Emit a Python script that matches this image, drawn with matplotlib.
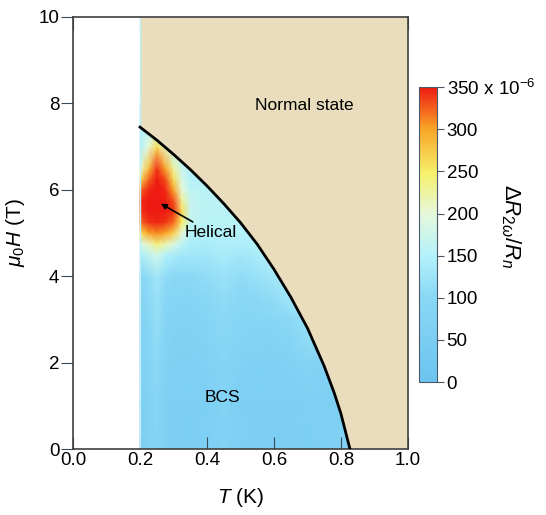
import numpy as np
import matplotlib
matplotlib.use("Agg")
import matplotlib.pyplot as plt
from matplotlib.colors import LinearSegmentedColormap

plt.rcParams["font.family"] = ["Liberation Sans", "DejaVu Sans"]
plt.rcParams["mathtext.fontset"] = "custom"
plt.rcParams["mathtext.rm"] = "Liberation Sans"
plt.rcParams["mathtext.it"] = "Liberation Sans:italic"

# measurement grid: temperature (K) and field (T)
temps = [0.20, 0.225, 0.25, 0.275, 0.30, 0.325, 0.35, 0.40, 0.45, 0.50,
         0.55, 0.60, 0.65, 0.70, 0.75, 0.80, 0.85]
fields = [0.0, 1.0, 2.0, 3.0, 3.5, 4.0, 4.5, 4.75, 5.0, 5.25, 5.5, 5.75,
          6.0, 6.25, 6.5, 7.0, 7.5, 8.0]

# dR_2w / R_n in units of 1e-6, one row per field value
signal = [
    [60, 70, 85, 65, 55, 55, 55, 60, 75, 60, 55, 55, 55, 55, 60, 70, 100],
    [60, 70, 90, 65, 55, 55, 55, 60, 75, 60, 55, 55, 55, 60, 65, 60, 100],
    [65, 80, 105, 75, 65, 65, 65, 70, 85, 70, 65, 65, 70, 80, 70, 70, 120],
    [70, 90, 115, 85, 75, 75, 75, 85, 100, 85, 85, 90, 100, 120, 140, 140, 140],
    [80, 100, 120, 95, 85, 85, 85, 95, 110, 95, 100, 110, 130, 140, 140, 140, 140],
    [90, 110, 130, 110, 100, 100, 100, 110, 120, 110, 120, 130, 140, 140, 140, 140, 140],
    [140, 160, 180, 150, 140, 130, 130, 130, 140, 130, 140, 150, 150, 150, 150, 150, 150],
    [180, 210, 240, 220, 190, 160, 140, 140, 145, 145, 150, 150, 150, 150, 150, 150, 150],
    [260, 300, 310, 300, 270, 200, 150, 150, 150, 150, 150, 150, 150, 150, 150, 150, 150],
    [320, 340, 345, 340, 320, 250, 165, 155, 155, 155, 155, 155, 155, 155, 155, 155, 155],
    [340, 350, 350, 350, 340, 260, 170, 155, 155, 155, 155, 155, 155, 155, 155, 155, 155],
    [345, 350, 350, 350, 330, 230, 170, 155, 155, 155, 155, 155, 155, 155, 155, 155, 155],
    [320, 345, 350, 345, 300, 200, 160, 155, 155, 155, 155, 155, 155, 155, 155, 155, 155],
    [260, 320, 350, 330, 260, 185, 150, 150, 150, 150, 150, 150, 150, 150, 150, 150, 150],
    [200, 280, 340, 300, 225, 170, 150, 150, 150, 150, 150, 150, 150, 150, 150, 150, 150],
    [150, 200, 260, 210, 155, 150, 150, 150, 150, 150, 150, 150, 150, 150, 150, 150, 150],
    [150, 150, 170, 150, 150, 150, 150, 150, 150, 150, 150, 150, 150, 150, 150, 150, 150],
    [150, 150, 150, 150, 150, 150, 150, 150, 150, 150, 150, 150, 150, 150, 150, 150, 150],
]

# upper critical field boundary
hc_temps = [0.20, 0.25, 0.30, 0.35, 0.40, 0.45, 0.50, 0.55, 0.60, 0.65,
            0.70, 0.75, 0.78, 0.80, 0.827]
hc_fields = [7.45, 7.15, 6.82, 6.47, 6.09, 5.68, 5.24, 4.74, 4.16, 3.52,
             2.80, 1.92, 1.30, 0.82, 0.0]

cbar_ticks = [0, 50, 100, 150, 200, 250, 300, 350]

tan = "#e9ddbd"
cmap = LinearSegmentedColormap.from_list(
    "helical",
    [(0.0, "#6cc4ef"), (0.29, "#8ad8f6"), (0.43, "#b4f2fa"),
     (0.57, "#e6f8dc"), (0.71, "#f6f06a"), (0.86, "#f8a426"),
     (1.0, "#ee1a12")],
)

fig = plt.figure(figsize=(5.46, 5.15), dpi=100)
ax = fig.add_axes([0.134, 0.128, 0.613, 0.839])

ax.axvspan(0.2, 1.0, color=tan, lw=0, zorder=0)
mesh = ax.pcolormesh(temps, fields, np.array(signal, dtype=float),
                     shading="gouraud", cmap=cmap, vmin=0, vmax=350, zorder=1)

# normal state covers everything outside the Hc2 line
poly_x = list(hc_temps) + [1.0, 1.0, 0.2]
poly_y = list(hc_fields) + [0.0, 10.0, 10.0]
ax.fill(poly_x, poly_y, color=tan, lw=0, zorder=2)
ax.axvline(0.2, color="#bfeef8", lw=1, zorder=2)
ax.plot(hc_temps, hc_fields, color="black", lw=2, zorder=3,
        solid_joinstyle="round")

ax.text(0.69, 7.95, "Normal state", ha="center", va="center", fontsize=12.5)
ax.text(0.445, 1.2, "BCS", ha="center", va="center", fontsize=12.5)
ax.annotate("Helical", xy=(0.262, 5.68), xytext=(0.333, 5.02),
            ha="left", va="center", fontsize=12.5, zorder=4,
            arrowprops=dict(arrowstyle="-|>", color="black", lw=1.2,
                            mutation_scale=8, shrinkA=0, shrinkB=0))

ax.set_xlim(0, 1.0)
ax.set_ylim(0, 10)
ax.set_xticks(np.arange(0, 1.01, 0.2))
ax.set_xticklabels([f"{v:.1f}" for v in np.arange(0, 1.01, 0.2)])
ax.set_yticks(range(0, 11, 2))
ax.tick_params(axis="x", direction="in", length=9, top=True, labelsize=13.5,
               color="#3a4a5a", pad=2)
ax.tick_params(axis="y", direction="out", length=9, right=False, labelsize=13.5,
               color="#3a4a5a", pad=1)
for side in ax.spines.values():
    side.set_color("#404040")
    side.set_linewidth(1.2)
ax.set_xlabel(r"$T$ (K)", fontsize=15, labelpad=12)
ax.set_ylabel(r"$\mu_0H$ (T)", fontsize=15, labelpad=8)

cax = fig.add_axes([0.767, 0.258, 0.033, 0.573])
cb = fig.colorbar(mesh, cax=cax, ticks=cbar_ticks)
cb.outline.set_edgecolor("#4a5a6a")
cb.ax.tick_params(length=5, labelsize=13.5, color="#4a5a6a", pad=2)
cb.ax.set_yticklabels([str(t) for t in cbar_ticks[:-1]] + [r"350 x 10$^{-6}$"])
fig.text(0.935, 0.56, r"$\Delta R_{2\omega}/R_n$", fontsize=16, rotation=-90,
         ha="center", va="center")

fig.savefig("out.png", dpi=100)
